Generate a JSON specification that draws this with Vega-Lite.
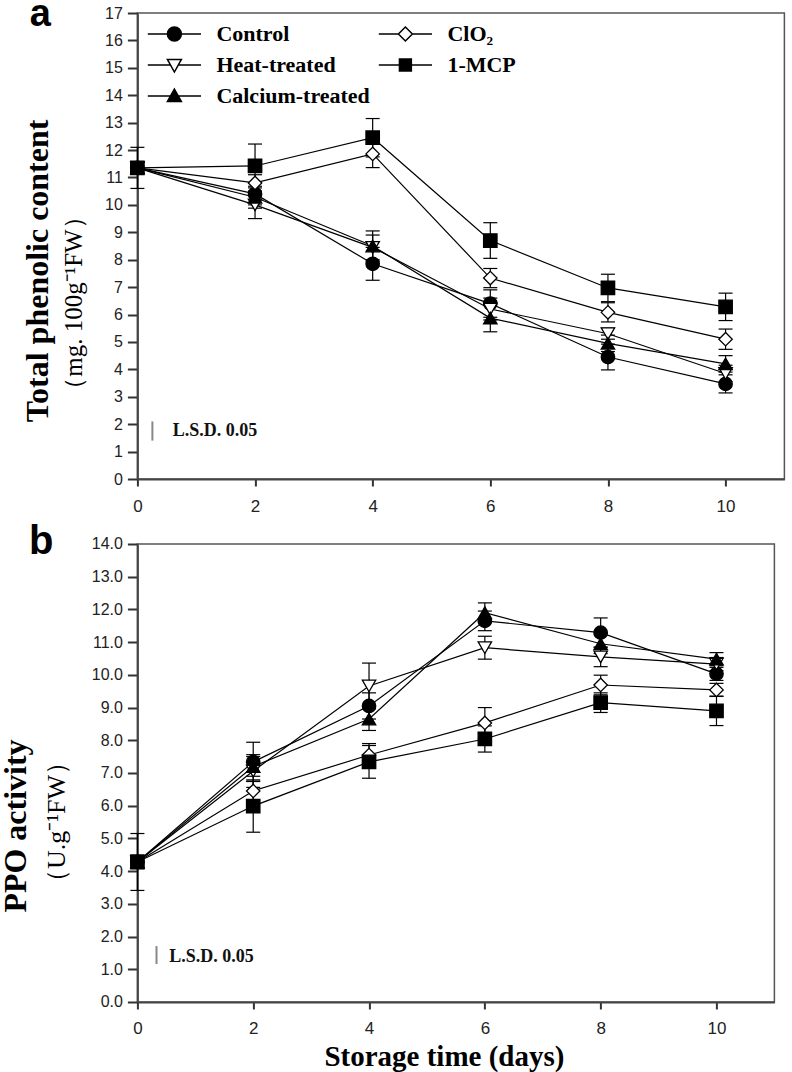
{
  "$schema": "https://vega.github.io/schema/vega-lite/v6.json",
  "padding": {"left": -1.6, "top": -5, "right": 5, "bottom": 5},
  "background": "white",
  "bounds": "flush",
  "spacing": 65,
  "config": {
    "view": {"stroke": "#555", "strokeWidth": 1.5},
    "font": "Liberation Serif",
    "axis": {"grid": false, "domainColor": "#444", "domainWidth": 2, "tickColor": "#333", "tickWidth": 2, "labelFont": "Liberation Sans", "labelColor": "#222", "labelFlush": false, "labelOverlap": false},
    "axisX": {"tickSize": 7, "labelPadding": 12, "labelFontSize": 17},
    "axisY": {"tickSize": 10, "labelPadding": 5, "labelFontSize": 16}
  },
  "datasets": {
    "phen": [
      {"series": "Control", "day": 0, "value": 11.35, "lo": 10.6, "hi": 12.1},
      {"series": "Control", "day": 2, "value": 10.4, "lo": 10.0, "hi": 10.8},
      {"series": "Control", "day": 4, "value": 7.85, "lo": 7.25, "hi": 8.45},
      {"series": "Control", "day": 6, "value": 6.4, "lo": 5.9, "hi": 6.9},
      {"series": "Control", "day": 8, "value": 4.45, "lo": 3.98, "hi": 4.92},
      {"series": "Control", "day": 10, "value": 3.47, "lo": 3.14, "hi": 3.8},
      {"series": "Heat-treated", "day": 0, "value": 11.35, "lo": 11.15, "hi": 11.55},
      {"series": "Heat-treated", "day": 2, "value": 10.0, "lo": 9.5, "hi": 10.5},
      {"series": "Heat-treated", "day": 4, "value": 8.45, "lo": 8.0, "hi": 8.9},
      {"series": "Heat-treated", "day": 6, "value": 6.2, "lo": 5.8, "hi": 6.6},
      {"series": "Heat-treated", "day": 8, "value": 5.3, "lo": 5.1, "hi": 5.5},
      {"series": "Heat-treated", "day": 10, "value": 3.85, "lo": 3.55, "hi": 4.15},
      {"series": "Calcium-treated", "day": 0, "value": 11.35, "lo": 11.15, "hi": 11.55},
      {"series": "Calcium-treated", "day": 2, "value": 10.28, "lo": 9.88, "hi": 10.68},
      {"series": "Calcium-treated", "day": 4, "value": 8.5, "lo": 7.95, "hi": 9.05},
      {"series": "Calcium-treated", "day": 6, "value": 5.87, "lo": 5.37, "hi": 6.37},
      {"series": "Calcium-treated", "day": 8, "value": 4.95, "lo": 4.65, "hi": 5.25},
      {"series": "Calcium-treated", "day": 10, "value": 4.2, "lo": 3.9, "hi": 4.5},
      {"series": "ClO₂", "day": 0, "value": 11.35, "lo": 11.15, "hi": 11.55},
      {"series": "ClO₂", "day": 2, "value": 10.8, "lo": 10.5, "hi": 11.1},
      {"series": "ClO₂", "day": 4, "value": 11.86, "lo": 11.36, "hi": 12.36},
      {"series": "ClO₂", "day": 6, "value": 7.33, "lo": 6.98, "hi": 7.68},
      {"series": "ClO₂", "day": 8, "value": 6.08, "lo": 5.73, "hi": 6.43},
      {"series": "ClO₂", "day": 10, "value": 5.1, "lo": 4.73, "hi": 5.47},
      {"series": "1-MCP", "day": 0, "value": 11.35, "lo": 11.15, "hi": 11.55},
      {"series": "1-MCP", "day": 2, "value": 11.42, "lo": 10.62, "hi": 12.22},
      {"series": "1-MCP", "day": 4, "value": 12.45, "lo": 11.75, "hi": 13.15},
      {"series": "1-MCP", "day": 6, "value": 8.7, "lo": 8.05, "hi": 9.35},
      {"series": "1-MCP", "day": 8, "value": 6.97, "lo": 6.47, "hi": 7.47},
      {"series": "1-MCP", "day": 10, "value": 6.28, "lo": 5.78, "hi": 6.78}
    ],
    "ppo": [
      {"series": "Control", "day": 0, "value": 4.28, "lo": 3.41, "hi": 5.15},
      {"series": "Control", "day": 2, "value": 7.34, "lo": 6.74, "hi": 7.94},
      {"series": "Control", "day": 4, "value": 9.05, "lo": 8.65, "hi": 9.45},
      {"series": "Control", "day": 6, "value": 11.65, "lo": 11.35, "hi": 11.95},
      {"series": "Control", "day": 8, "value": 11.29, "lo": 10.84, "hi": 11.74},
      {"series": "Control", "day": 10, "value": 10.03, "lo": 9.83, "hi": 10.23},
      {"series": "Heat-treated", "day": 0, "value": 4.28, "lo": 4.08, "hi": 4.48},
      {"series": "Heat-treated", "day": 2, "value": 7.06, "lo": 6.56, "hi": 7.56},
      {"series": "Heat-treated", "day": 4, "value": 9.66, "lo": 8.96, "hi": 10.36},
      {"series": "Heat-treated", "day": 6, "value": 10.83, "lo": 10.48, "hi": 11.18},
      {"series": "Heat-treated", "day": 8, "value": 10.55, "lo": 10.25, "hi": 10.85},
      {"series": "Heat-treated", "day": 10, "value": 10.33, "lo": 10.13, "hi": 10.53},
      {"series": "Calcium-treated", "day": 0, "value": 4.28, "lo": 4.08, "hi": 4.48},
      {"series": "Calcium-treated", "day": 2, "value": 7.2, "lo": 6.9, "hi": 7.5},
      {"series": "Calcium-treated", "day": 4, "value": 8.65, "lo": 8.3, "hi": 9.0},
      {"series": "Calcium-treated", "day": 6, "value": 11.9, "lo": 11.6, "hi": 12.2},
      {"series": "Calcium-treated", "day": 8, "value": 10.95, "lo": 10.65, "hi": 11.25},
      {"series": "Calcium-treated", "day": 10, "value": 10.48, "lo": 10.28, "hi": 10.68},
      {"series": "ClO₂", "day": 0, "value": 4.28, "lo": 4.08, "hi": 4.48},
      {"series": "ClO₂", "day": 2, "value": 6.45, "lo": 6.15, "hi": 6.75},
      {"series": "ClO₂", "day": 4, "value": 7.55, "lo": 7.2, "hi": 7.9},
      {"series": "ClO₂", "day": 6, "value": 8.53, "lo": 8.06, "hi": 9.0},
      {"series": "ClO₂", "day": 8, "value": 9.69, "lo": 9.39, "hi": 9.99},
      {"series": "ClO₂", "day": 10, "value": 9.54, "lo": 9.34, "hi": 9.74},
      {"series": "1-MCP", "day": 0, "value": 4.28, "lo": 4.08, "hi": 4.48},
      {"series": "1-MCP", "day": 2, "value": 5.99, "lo": 5.19, "hi": 6.79},
      {"series": "1-MCP", "day": 4, "value": 7.34, "lo": 6.84, "hi": 7.84},
      {"series": "1-MCP", "day": 6, "value": 8.04, "lo": 7.64, "hi": 8.44},
      {"series": "1-MCP", "day": 8, "value": 9.15, "lo": 8.85, "hi": 9.45},
      {"series": "1-MCP", "day": 10, "value": 8.9, "lo": 8.45, "hi": 9.35}
    ]
  },
  "vconcat": [
    {
      "width": 647,
      "height": 466,
      "data": {"name": "phen"},
      "resolve": {"scale": {"shape": "independent", "fill": "independent"}},
      "layer": [
        {
          "mark": {"type": "rule", "color": "black", "strokeWidth": 1.2},
          "encoding": {
            "x": {"field": "day", "type": "quantitative", "scale": {"domain": [0, 11], "nice": false}, "axis": {"values": [0, 2, 4, 6, 8, 10], "format": "d", "title": null}},
            "y": {"field": "lo", "type": "quantitative", "scale": {"domain": [0, 17], "nice": false}, "axis": {"values": [0, 1, 2, 3, 4, 5, 6, 7, 8, 9, 10, 11, 12, 13, 14, 15, 16, 17], "format": "d", "title": null}},
            "y2": {"field": "hi"},
            "detail": {"field": "series"}
          }
        },
        {
          "mark": {"type": "tick", "orient": "horizontal", "color": "black", "size": 14, "thickness": 1.2, "opacity": 1},
          "encoding": {
            "x": {"field": "day", "type": "quantitative", "scale": {"domain": [0, 11], "nice": false}, "axis": {"values": [0, 2, 4, 6, 8, 10], "format": "d", "title": null}},
            "y": {"field": "lo", "type": "quantitative", "scale": {"domain": [0, 17], "nice": false}, "axis": {"values": [0, 1, 2, 3, 4, 5, 6, 7, 8, 9, 10, 11, 12, 13, 14, 15, 16, 17], "format": "d", "title": null}},
            "detail": {"field": "series"}
          }
        },
        {
          "mark": {"type": "tick", "orient": "horizontal", "color": "black", "size": 14, "thickness": 1.2, "opacity": 1},
          "encoding": {
            "x": {"field": "day", "type": "quantitative", "scale": {"domain": [0, 11], "nice": false}, "axis": {"values": [0, 2, 4, 6, 8, 10], "format": "d", "title": null}},
            "y": {"field": "hi", "type": "quantitative", "scale": {"domain": [0, 17], "nice": false}, "axis": {"values": [0, 1, 2, 3, 4, 5, 6, 7, 8, 9, 10, 11, 12, 13, 14, 15, 16, 17], "format": "d", "title": null}},
            "detail": {"field": "series"}
          }
        },
        {
          "mark": {"type": "line", "color": "black", "strokeWidth": 1.2},
          "encoding": {
            "x": {"field": "day", "type": "quantitative", "scale": {"domain": [0, 11], "nice": false}, "axis": {"values": [0, 2, 4, 6, 8, 10], "format": "d", "title": null}},
            "y": {"field": "value", "type": "quantitative", "scale": {"domain": [0, 17], "nice": false}, "axis": {"values": [0, 1, 2, 3, 4, 5, 6, 7, 8, 9, 10, 11, 12, 13, 14, 15, 16, 17], "format": "d", "title": null}},
            "detail": {"field": "series"}
          }
        },
        {
          "mark": {"type": "point", "filled": true, "stroke": "black", "strokeWidth": 1.3, "size": 180, "opacity": 1},
          "encoding": {
            "x": {"field": "day", "type": "quantitative", "scale": {"domain": [0, 11], "nice": false}, "axis": {"values": [0, 2, 4, 6, 8, 10], "format": "d", "title": null}},
            "y": {"field": "value", "type": "quantitative", "scale": {"domain": [0, 17], "nice": false}, "axis": {"values": [0, 1, 2, 3, 4, 5, 6, 7, 8, 9, 10, 11, 12, 13, 14, 15, 16, 17], "format": "d", "title": null}},
            "shape": {"field": "series", "type": "nominal", "scale": {"domain": ["Control", "Heat-treated", "Calcium-treated", "ClO₂", "1-MCP"], "range": ["circle", "triangle-down", "triangle-up", "diamond", "square"]}, "legend": null},
            "fill": {"field": "series", "type": "nominal", "scale": {"domain": ["Control", "Heat-treated", "Calcium-treated", "ClO₂", "1-MCP"], "range": ["black", "white", "black", "white", "black"]}, "legend": null}
          }
        },
        {
          "transform": [{"filter": "false"}],
          "mark": {"type": "point", "filled": true, "stroke": "black", "strokeWidth": 1.3, "size": 180, "opacity": 1},
          "encoding": {
            "x": {"field": "day", "type": "quantitative", "scale": {"domain": [0, 11], "nice": false}, "axis": {"values": [0, 2, 4, 6, 8, 10], "format": "d", "title": null}},
            "y": {"field": "value", "type": "quantitative", "scale": {"domain": [0, 17], "nice": false}, "axis": {"values": [0, 1, 2, 3, 4, 5, 6, 7, 8, 9, 10, 11, 12, 13, 14, 15, 16, 17], "format": "d", "title": null}},
            "shape": {"field": "series", "type": "nominal",
              "scale": {"domain": ["Control", "Heat-treated", "Calcium-treated", "ClO₂", "1-MCP"],
                "range": ["M-3.8,0H-1M1,0H3.8M1,0A1,1,0,1,1,-1,0A1,1,0,1,1,1,0Z", "M-3.8,0H-0.55M0.55,0H3.8M-1,-0.8L1,-0.8L0,1Z", "M-3.8,0H-0.55M0.55,0H3.8M0,-1L1,0.8L-1,0.8Z", "M-3.8,0H-1M1,0H3.8M0,-1L1,0L0,1L-1,0Z", "M-3.8,0H-0.85M0.85,0H3.8M-0.85,-0.85H0.85V0.85H-0.85Z"]},
              "legend": {"title": null, "orient": "none", "legendX": 26, "legendY": 10, "columns": 2, "padding": 0, "symbolSize": 196, "labelFont": "Liberation Serif", "labelFontWeight": "bold", "labelFontSize": 22, "labelColor": "black", "labelOffset": 31, "labelLimit": 300, "rowPadding": 9, "columnPadding": 5,
                "encode": {"symbols": {"update": {"stroke": {"value": "black"}, "strokeWidth": {"value": 1.3}, "opacity": {"value": 1}}}}}},
            "fill": {"field": "series", "type": "nominal",
              "scale": {"domain": ["Control", "Heat-treated", "Calcium-treated", "ClO₂", "1-MCP"], "range": ["black", "white", "black", "white", "black"]},
              "legend": {"title": null, "orient": "none", "legendX": 26, "legendY": 10, "columns": 2, "padding": 0, "symbolSize": 196, "labelFont": "Liberation Serif", "labelFontWeight": "bold", "labelFontSize": 22, "labelColor": "black", "labelOffset": 31, "labelLimit": 300, "rowPadding": 9, "columnPadding": 5,
                "encode": {"symbols": {"update": {"stroke": {"value": "black"}, "strokeWidth": {"value": 1.3}, "opacity": {"value": 1}}}}}}
          }
        },
        {
          "data": {"values": [{}]},
          "mark": {"type": "rule", "color": "#888", "strokeWidth": 2},
          "encoding": {
            "x": {"datum": 0.255, "type": "quantitative", "scale": {"domain": [0, 11], "nice": false}, "axis": {"values": [0, 2, 4, 6, 8, 10], "format": "d", "title": null}},
            "y": {"datum": 1.4, "type": "quantitative", "scale": {"domain": [0, 17], "nice": false}, "axis": {"values": [0, 1, 2, 3, 4, 5, 6, 7, 8, 9, 10, 11, 12, 13, 14, 15, 16, 17], "format": "d", "title": null}},
            "y2": {"datum": 2.1}
          }
        },
        {
          "data": {"values": [{}]},
          "mark": {"type": "text", "text": "L.S.D. 0.05", "font": "Liberation Serif", "fontWeight": "bold", "fontSize": 18, "align": "left", "baseline": "middle", "color": "#111"},
          "encoding": {
            "x": {"datum": 0.6, "type": "quantitative", "scale": {"domain": [0, 11], "nice": false}, "axis": {"values": [0, 2, 4, 6, 8, 10], "format": "d", "title": null}},
            "y": {"datum": 1.75, "type": "quantitative", "scale": {"domain": [0, 17], "nice": false}, "axis": {"values": [0, 1, 2, 3, 4, 5, 6, 7, 8, 9, 10, 11, 12, 13, 14, 15, 16, 17], "format": "d", "title": null}}
          }
        },
        {
          "data": {"values": [{}]},
          "mark": {"type": "text", "text": "a", "font": "Liberation Sans", "fontWeight": "bold", "fontSize": 38, "align": "center", "baseline": "alphabetic", "color": "black"},
          "encoding": {
            "x": {"datum": -1.65, "type": "quantitative", "scale": {"domain": [0, 11], "nice": false}, "axis": {"values": [0, 2, 4, 6, 8, 10], "format": "d", "title": null}},
            "y": {"datum": 16.53, "type": "quantitative", "scale": {"domain": [0, 17], "nice": false}, "axis": {"values": [0, 1, 2, 3, 4, 5, 6, 7, 8, 9, 10, 11, 12, 13, 14, 15, 16, 17], "format": "d", "title": null}}
          }
        },
        {
          "data": {"values": [{}]},
          "mark": {"type": "text", "text": "Total phenolic content", "font": "Liberation Serif", "fontWeight": "bold", "fontSize": 32, "angle": 270, "align": "center", "baseline": "middle", "color": "black"},
          "encoding": {
            "x": {"datum": -1.69, "type": "quantitative", "scale": {"domain": [0, 11], "nice": false}, "axis": {"values": [0, 2, 4, 6, 8, 10], "format": "d", "title": null}},
            "y": {"datum": 7.59, "type": "quantitative", "scale": {"domain": [0, 17], "nice": false}, "axis": {"values": [0, 1, 2, 3, 4, 5, 6, 7, 8, 9, 10, 11, 12, 13, 14, 15, 16, 17], "format": "d", "title": null}}
          }
        },
        {
          "data": {"values": [{}]},
          "mark": {"type": "text", "text": "（mg. 100g⁻¹FW）", "font": "Liberation Serif", "fontSize": 25, "angle": 270, "align": "center", "baseline": "middle", "color": "black"},
          "encoding": {
            "x": {"datum": -1.08, "type": "quantitative", "scale": {"domain": [0, 11], "nice": false}, "axis": {"values": [0, 2, 4, 6, 8, 10], "format": "d", "title": null}},
            "y": {"datum": 6.42, "type": "quantitative", "scale": {"domain": [0, 17], "nice": false}, "axis": {"values": [0, 1, 2, 3, 4, 5, 6, 7, 8, 9, 10, 11, 12, 13, 14, 15, 16, 17], "format": "d", "title": null}}
          }
        }
      ]
    },
    {
      "width": 637,
      "height": 458,
      "data": {"name": "ppo"},
      "resolve": {"scale": {"shape": "independent", "fill": "independent"}},
      "layer": [
        {
          "mark": {"type": "rule", "color": "black", "strokeWidth": 1.2},
          "encoding": {
            "x": {"field": "day", "type": "quantitative", "scale": {"domain": [0, 11], "nice": false}, "axis": {"values": [0, 2, 4, 6, 8, 10], "format": "d", "title": "Storage time (days)", "titleFont": "Liberation Serif", "titleFontWeight": "bold", "titleFontSize": 29, "titleColor": "black", "titleX": 306.5, "titleY": 64, "titleBaseline": "alphabetic", "titleAlign": "center"}},
            "y": {"field": "lo", "type": "quantitative", "scale": {"domain": [0, 14], "nice": false}, "axis": {"values": [0, 1, 2, 3, 4, 5, 6, 7, 8, 9, 10, 11, 12, 13, 14], "format": ".1f", "title": null}},
            "y2": {"field": "hi"},
            "detail": {"field": "series"}
          }
        },
        {
          "mark": {"type": "tick", "orient": "horizontal", "color": "black", "size": 14, "thickness": 1.2, "opacity": 1},
          "encoding": {
            "x": {"field": "day", "type": "quantitative", "scale": {"domain": [0, 11], "nice": false}, "axis": {"values": [0, 2, 4, 6, 8, 10], "format": "d", "title": "Storage time (days)", "titleFont": "Liberation Serif", "titleFontWeight": "bold", "titleFontSize": 29, "titleColor": "black", "titleX": 306.5, "titleY": 64, "titleBaseline": "alphabetic", "titleAlign": "center"}},
            "y": {"field": "lo", "type": "quantitative", "scale": {"domain": [0, 14], "nice": false}, "axis": {"values": [0, 1, 2, 3, 4, 5, 6, 7, 8, 9, 10, 11, 12, 13, 14], "format": ".1f", "title": null}},
            "detail": {"field": "series"}
          }
        },
        {
          "mark": {"type": "tick", "orient": "horizontal", "color": "black", "size": 14, "thickness": 1.2, "opacity": 1},
          "encoding": {
            "x": {"field": "day", "type": "quantitative", "scale": {"domain": [0, 11], "nice": false}, "axis": {"values": [0, 2, 4, 6, 8, 10], "format": "d", "title": "Storage time (days)", "titleFont": "Liberation Serif", "titleFontWeight": "bold", "titleFontSize": 29, "titleColor": "black", "titleX": 306.5, "titleY": 64, "titleBaseline": "alphabetic", "titleAlign": "center"}},
            "y": {"field": "hi", "type": "quantitative", "scale": {"domain": [0, 14], "nice": false}, "axis": {"values": [0, 1, 2, 3, 4, 5, 6, 7, 8, 9, 10, 11, 12, 13, 14], "format": ".1f", "title": null}},
            "detail": {"field": "series"}
          }
        },
        {
          "mark": {"type": "line", "color": "black", "strokeWidth": 1.2},
          "encoding": {
            "x": {"field": "day", "type": "quantitative", "scale": {"domain": [0, 11], "nice": false}, "axis": {"values": [0, 2, 4, 6, 8, 10], "format": "d", "title": "Storage time (days)", "titleFont": "Liberation Serif", "titleFontWeight": "bold", "titleFontSize": 29, "titleColor": "black", "titleX": 306.5, "titleY": 64, "titleBaseline": "alphabetic", "titleAlign": "center"}},
            "y": {"field": "value", "type": "quantitative", "scale": {"domain": [0, 14], "nice": false}, "axis": {"values": [0, 1, 2, 3, 4, 5, 6, 7, 8, 9, 10, 11, 12, 13, 14], "format": ".1f", "title": null}},
            "detail": {"field": "series"}
          }
        },
        {
          "mark": {"type": "point", "filled": true, "stroke": "black", "strokeWidth": 1.3, "size": 180, "opacity": 1},
          "encoding": {
            "x": {"field": "day", "type": "quantitative", "scale": {"domain": [0, 11], "nice": false}, "axis": {"values": [0, 2, 4, 6, 8, 10], "format": "d", "title": "Storage time (days)", "titleFont": "Liberation Serif", "titleFontWeight": "bold", "titleFontSize": 29, "titleColor": "black", "titleX": 306.5, "titleY": 64, "titleBaseline": "alphabetic", "titleAlign": "center"}},
            "y": {"field": "value", "type": "quantitative", "scale": {"domain": [0, 14], "nice": false}, "axis": {"values": [0, 1, 2, 3, 4, 5, 6, 7, 8, 9, 10, 11, 12, 13, 14], "format": ".1f", "title": null}},
            "shape": {"field": "series", "type": "nominal", "scale": {"domain": ["Control", "Heat-treated", "Calcium-treated", "ClO₂", "1-MCP"], "range": ["circle", "triangle-down", "triangle-up", "diamond", "square"]}, "legend": null},
            "fill": {"field": "series", "type": "nominal", "scale": {"domain": ["Control", "Heat-treated", "Calcium-treated", "ClO₂", "1-MCP"], "range": ["black", "white", "black", "white", "black"]}, "legend": null}
          }
        },
        {
          "data": {"values": [{}]},
          "mark": {"type": "rule", "color": "#888", "strokeWidth": 2},
          "encoding": {
            "x": {"datum": 0.33, "type": "quantitative", "scale": {"domain": [0, 11], "nice": false}, "axis": {"values": [0, 2, 4, 6, 8, 10], "format": "d", "title": "Storage time (days)", "titleFont": "Liberation Serif", "titleFontWeight": "bold", "titleFontSize": 29, "titleColor": "black", "titleX": 306.5, "titleY": 64, "titleBaseline": "alphabetic", "titleAlign": "center"}},
            "y": {"datum": 1.16, "type": "quantitative", "scale": {"domain": [0, 14], "nice": false}, "axis": {"values": [0, 1, 2, 3, 4, 5, 6, 7, 8, 9, 10, 11, 12, 13, 14], "format": ".1f", "title": null}},
            "y2": {"datum": 1.71}
          }
        },
        {
          "data": {"values": [{}]},
          "mark": {"type": "text", "text": "L.S.D. 0.05", "font": "Liberation Serif", "fontWeight": "bold", "fontSize": 18, "align": "left", "baseline": "middle", "color": "#111"},
          "encoding": {
            "x": {"datum": 0.55, "type": "quantitative", "scale": {"domain": [0, 11], "nice": false}, "axis": {"values": [0, 2, 4, 6, 8, 10], "format": "d", "title": "Storage time (days)", "titleFont": "Liberation Serif", "titleFontWeight": "bold", "titleFontSize": 29, "titleColor": "black", "titleX": 306.5, "titleY": 64, "titleBaseline": "alphabetic", "titleAlign": "center"}},
            "y": {"datum": 1.38, "type": "quantitative", "scale": {"domain": [0, 14], "nice": false}, "axis": {"values": [0, 1, 2, 3, 4, 5, 6, 7, 8, 9, 10, 11, 12, 13, 14], "format": ".1f", "title": null}}
          }
        },
        {
          "data": {"values": [{}]},
          "mark": {"type": "text", "text": "b", "font": "Liberation Sans", "fontWeight": "bold", "fontSize": 40, "align": "center", "baseline": "alphabetic", "color": "black"},
          "encoding": {
            "x": {"datum": -1.66, "type": "quantitative", "scale": {"domain": [0, 11], "nice": false}, "axis": {"values": [0, 2, 4, 6, 8, 10], "format": "d", "title": "Storage time (days)", "titleFont": "Liberation Serif", "titleFontWeight": "bold", "titleFontSize": 29, "titleColor": "black", "titleX": 306.5, "titleY": 64, "titleBaseline": "alphabetic", "titleAlign": "center"}},
            "y": {"datum": 13.7, "type": "quantitative", "scale": {"domain": [0, 14], "nice": false}, "axis": {"values": [0, 1, 2, 3, 4, 5, 6, 7, 8, 9, 10, 11, 12, 13, 14], "format": ".1f", "title": null}}
          }
        },
        {
          "data": {"values": [{}]},
          "mark": {"type": "text", "text": "PPO activity", "font": "Liberation Serif", "fontWeight": "bold", "fontSize": 32, "angle": 270, "align": "center", "baseline": "middle", "color": "black"},
          "encoding": {
            "x": {"datum": -2.1, "type": "quantitative", "scale": {"domain": [0, 11], "nice": false}, "axis": {"values": [0, 2, 4, 6, 8, 10], "format": "d", "title": "Storage time (days)", "titleFont": "Liberation Serif", "titleFontWeight": "bold", "titleFontSize": 29, "titleColor": "black", "titleX": 306.5, "titleY": 64, "titleBaseline": "alphabetic", "titleAlign": "center"}},
            "y": {"datum": 5.38, "type": "quantitative", "scale": {"domain": [0, 14], "nice": false}, "axis": {"values": [0, 1, 2, 3, 4, 5, 6, 7, 8, 9, 10, 11, 12, 13, 14], "format": ".1f", "title": null}}
          }
        },
        {
          "data": {"values": [{}]},
          "mark": {"type": "text", "text": "（U.g⁻¹FW）", "font": "Liberation Serif", "fontSize": 26, "angle": 270, "align": "center", "baseline": "middle", "color": "black"},
          "encoding": {
            "x": {"datum": -1.38, "type": "quantitative", "scale": {"domain": [0, 11], "nice": false}, "axis": {"values": [0, 2, 4, 6, 8, 10], "format": "d", "title": "Storage time (days)", "titleFont": "Liberation Serif", "titleFontWeight": "bold", "titleFontSize": 29, "titleColor": "black", "titleX": 306.5, "titleY": 64, "titleBaseline": "alphabetic", "titleAlign": "center"}},
            "y": {"datum": 5.5, "type": "quantitative", "scale": {"domain": [0, 14], "nice": false}, "axis": {"values": [0, 1, 2, 3, 4, 5, 6, 7, 8, 9, 10, 11, 12, 13, 14], "format": ".1f", "title": null}}
          }
        }
      ]
    }
  ]
}
